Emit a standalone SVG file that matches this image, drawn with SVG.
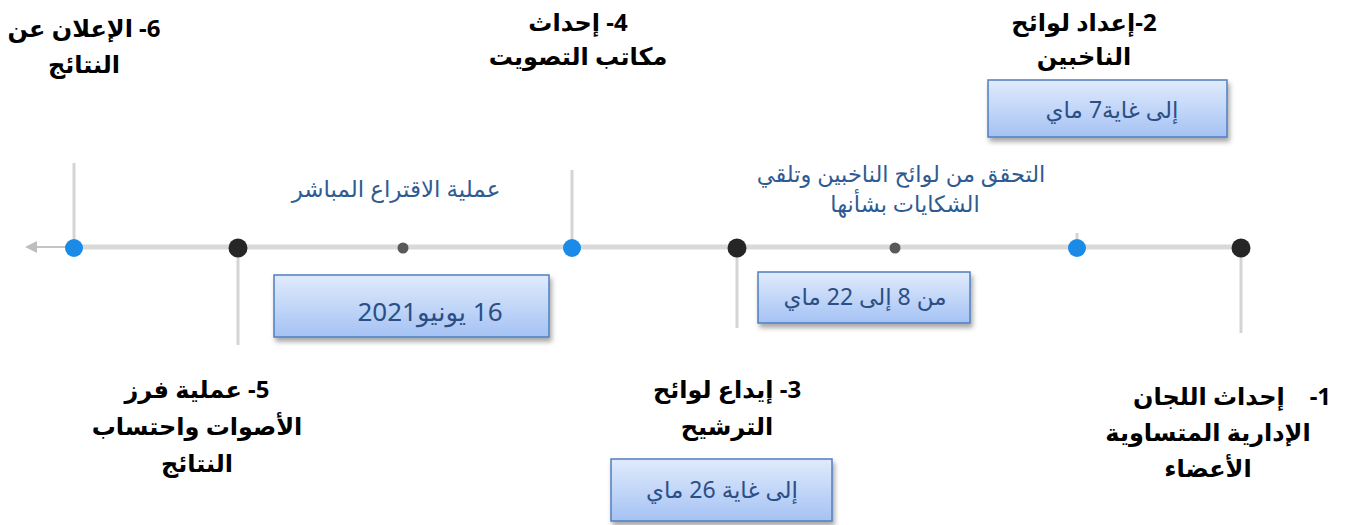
<svg xmlns="http://www.w3.org/2000/svg" width="1349" height="525" viewBox="0 0 1349 525">
<defs>
<linearGradient id="boxg" x1="0" y1="0" x2="0" y2="1">
<stop offset="0" stop-color="#e0ebfc"/>
<stop offset="1" stop-color="#a5c2f4"/>
</linearGradient>
<filter id="sh" x="-10%" y="-20%" width="125%" height="160%">
<feDropShadow dx="2" dy="4" stdDeviation="2.5" flood-color="#000" flood-opacity="0.35"/>
</filter>
<marker id="arr" viewBox="0 0 10 10" refX="0" refY="5" markerWidth="16" markerHeight="12" markerUnits="userSpaceOnUse" orient="auto-start-reverse">
<path d="M0,0 L10,5 L0,10 z" fill="#bdbdbd"/>
</marker>
</defs>
<style>
.axis{stroke:#d9d9d9;stroke-width:5;fill:none}
.tail{stroke:#c4c4c4;stroke-width:2;fill:none}
.vl{stroke:#d4d4d4;stroke-width:3;fill:none}
.blue{fill:#1a8ce8}
.black{fill:#262626}
.gray{fill:#595959}
.box{fill:url(#boxg);stroke:#4f7fbf;stroke-width:1.5;filter:url(#sh)}
.t{font-family:"Noto Sans","DejaVu Sans",sans-serif;direction:rtl;text-anchor:middle}
.h{font-size:24px;font-weight:bold;fill:#000}
.bt{font-size:23px;fill:#2f5b91}
.bt2{font-size:22.5px;fill:#2f5b91}
.bx{font-size:23px;fill:#2b4f85}
</style>
<g id="connectors">
<line class="tail" x1="37" y1="247" x2="66" y2="247" marker-start="url(#arr)"/>
<line class="axis" x1="66" y1="247" x2="1241" y2="247"/>
<line class="vl" x1="74" y1="163" x2="74" y2="247"/>
<line class="vl" x1="238" y1="247" x2="238" y2="345"/>
<line class="vl" x1="572" y1="170" x2="572" y2="247"/>
<line class="vl" x1="737" y1="247" x2="737" y2="328"/>
<line class="vl" x1="1077" y1="233" x2="1077" y2="247"/>
<line class="vl" x1="1241" y1="247" x2="1241" y2="333"/>
</g>
<g id="dots">
<circle class="blue" cx="74" cy="248" r="9"/>
<circle class="black" cx="238" cy="248" r="9.5"/>
<circle class="gray" cx="403" cy="248" r="5.5"/>
<circle class="blue" cx="572" cy="248" r="9"/>
<circle class="black" cx="737" cy="248" r="9.5"/>
<circle class="gray" cx="895" cy="248" r="5.5"/>
<circle class="blue" cx="1077" cy="248" r="9"/>
<circle class="black" cx="1241" cy="248" r="9.5"/>
</g>
<g id="step6">
<text class="t h" x="84" y="37">6- الإعلان عن</text>
<text class="t h" x="84" y="73">النتائج</text>
</g>
<g id="step4">
<text class="t h" x="578" y="31">4- إحداث</text>
<text class="t h" x="578" y="65">مكاتب التصويت</text>
</g>
<g id="step2">
<text class="t h" x="1084" y="31">2-إعداد لوائح</text>
<text class="t h" x="1084" y="65">الناخبين</text>
</g>
<g id="box7may">
<rect class="box" x="988" y="80" width="239" height="57"/>
<text class="t bx" x="1112" y="118">إلى غاية7 ماي</text>
</g>
<g id="label-vote">
<text class="t bt" x="396" y="197">عملية الاقتراع المباشر</text>
</g>
<g id="label-check">
<text class="t bt2" x="901" y="182">التحقق من لوائح الناخبين وتلقي</text>
<text class="t bt2" x="905" y="212">الشكايات بشأنها</text>
</g>
<g id="box16june">
<rect class="box" x="274" y="275" width="275" height="62"/>
<text class="t" x="430" y="321" style="font-size:26px;fill:#2b4f85">16 يونيو2021</text>
</g>
<g id="box8-22may">
<rect class="box" x="758" y="272" width="212" height="51"/>
<text class="t bx" x="865" y="305">من 8  إلى 22 ماي</text>
</g>
<g id="step5">
<text class="t h" x="197" y="398">5- عملية فرز</text>
<text class="t h" x="197" y="435">الأصوات واحتساب</text>
<text class="t h" x="197" y="472">النتائج</text>
</g>
<g id="step3">
<text class="t h" x="727" y="398">3- إيداع لوائح</text>
<text class="t h" x="727" y="435">الترشيح</text>
</g>
<g id="box26may">
<rect class="box" x="611" y="459" width="221" height="62"/>
<text class="t bx" x="722" y="498">إلى غاية 26 ماي</text>
</g>
<g id="step1">
<text class="t h" x="1232" y="405" xml:space="preserve" style="white-space:pre">1-    إحداث اللجان</text>
<text class="t h" x="1208" y="441">الإدارية المتساوية</text>
<text class="t h" x="1208" y="477">الأعضاء</text>
</g>
</svg>
